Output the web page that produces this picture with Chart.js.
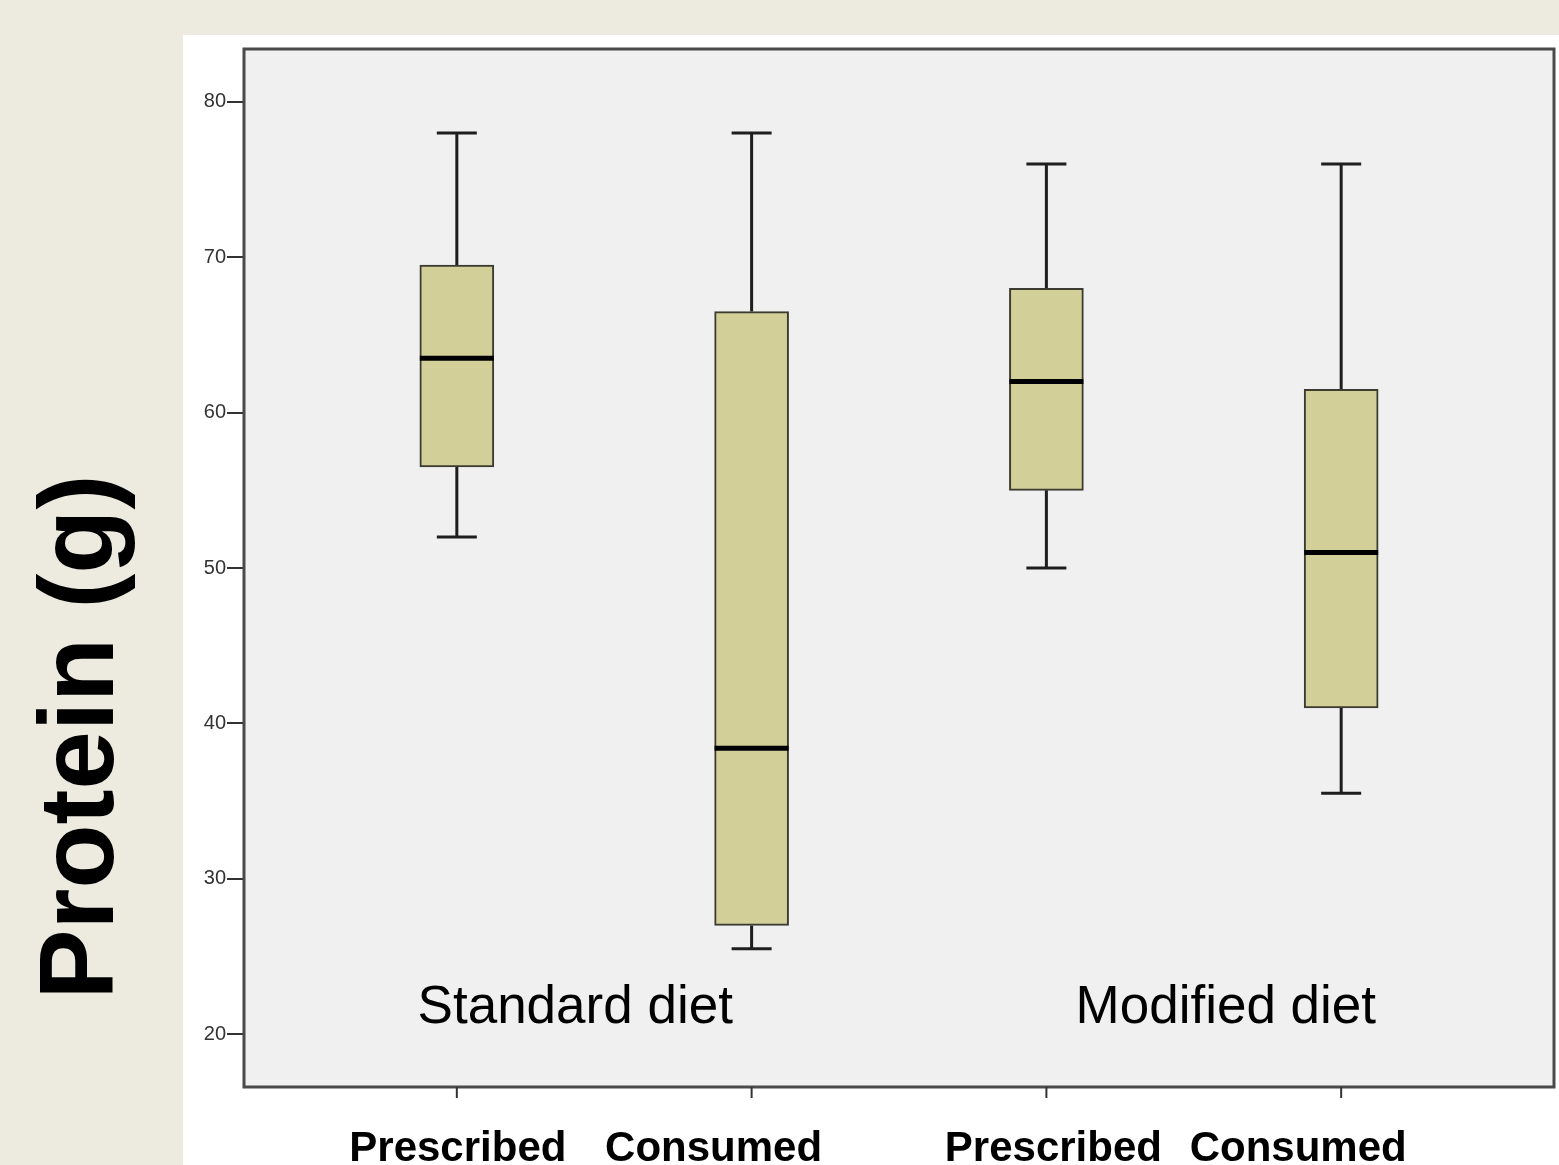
<!DOCTYPE html>
<html>
<head>
<meta charset="utf-8">
<script src="https://cdn.jsdelivr.net/npm/chart.js@4/dist/chart.umd.min.js"></script>
<style>
  html, body { margin: 0; padding: 0; background: #edeae0; }
  #wrap { width: 1559px; height: 1165px; position: relative; }
</style>
</head>
<body>
<div id="wrap"><canvas id="c" width="1559" height="1165"></canvas></div>
<script>
// ---- data ----
const categories = ['Prescribed', 'Consumed', 'Prescribed', 'Consumed'];
const groups = ['Standard diet', 'Modified diet'];
const whiskerMin = [52, 25.5, 50, 35.5];
const q1 = [56.5, 27, 55, 41];
const median = [63.5, 38.4, 62, 51];
const q3 = [69.5, 66.5, 68, 61.5];
const whiskerMax = [78, 78, 76, 76];
const yTicks = [20, 30, 40, 50, 60, 70, 80];
const yTitle = 'Protein (g)';

const FONT = '"Liberation Sans", Arial, sans-serif';
const boxFill = '#d3cf99';
const boxEdge = '#3b3b30';

const boxPlugin = {
  id: 'boxPlugin',
  beforeDraw(chart) {
    const ctx = chart.ctx, a = chart.chartArea;
    ctx.save();
    ctx.fillStyle = '#edeae0';
    ctx.fillRect(0, 0, chart.width, chart.height);
    ctx.fillStyle = '#ffffff';
    ctx.fillRect(183, 35, chart.width - 183, chart.height - 35);
    ctx.fillStyle = '#f0f0f0';
    ctx.fillRect(a.left, a.top, a.right - a.left, a.bottom - a.top);
    ctx.restore();
  },
  beforeDatasetsDraw(chart) {
    const ctx = chart.ctx, xs = chart.scales.x, ys = chart.scales.y;
    ctx.save();
    ctx.strokeStyle = '#1e1e1e';
    ctx.lineWidth = 3;
    const capHalf = 20;
    categories.forEach((c, i) => {
      const x = xs.getPixelForValue(i);
      ctx.beginPath();
      ctx.moveTo(x, ys.getPixelForValue(whiskerMax[i]));
      ctx.lineTo(x, ys.getPixelForValue(q3[i]));
      ctx.moveTo(x, ys.getPixelForValue(q1[i]));
      ctx.lineTo(x, ys.getPixelForValue(whiskerMin[i]));
      ctx.moveTo(x - capHalf, ys.getPixelForValue(whiskerMax[i]));
      ctx.lineTo(x + capHalf, ys.getPixelForValue(whiskerMax[i]));
      ctx.moveTo(x - capHalf, ys.getPixelForValue(whiskerMin[i]));
      ctx.lineTo(x + capHalf, ys.getPixelForValue(whiskerMin[i]));
      ctx.stroke();
    });
    ctx.restore();
  },
  afterDatasetsDraw(chart) {
    const ctx = chart.ctx, xs = chart.scales.x, ys = chart.scales.y, a = chart.chartArea;
    ctx.save();
    // medians
    ctx.strokeStyle = '#000';
    ctx.lineWidth = 5;
    categories.forEach((c, i) => {
      const x = xs.getPixelForValue(i);
      const y = ys.getPixelForValue(median[i]);
      ctx.beginPath();
      ctx.moveTo(x - 37, y);
      ctx.lineTo(x + 37, y);
      ctx.stroke();
    });
    // frame
    ctx.strokeStyle = '#4a4a4a';
    ctx.lineWidth = 3;
    ctx.strokeRect(a.left, a.top, a.right - a.left, a.bottom - a.top);
    // x ticks
    ctx.strokeStyle = '#333';
    ctx.lineWidth = 2;
    categories.forEach((c, i) => {
      const x = xs.getPixelForValue(i);
      ctx.beginPath();
      ctx.moveTo(x, a.bottom);
      ctx.lineTo(x, a.bottom + 11);
      ctx.stroke();
    });
    // category labels
    const shift = [1, -38, 7, -43];
    ctx.fillStyle = '#000';
    ctx.font = 'bold 42px ' + FONT;
    ctx.textAlign = 'center';
    ctx.textBaseline = 'alphabetic';
    categories.forEach((c, i) => {
      ctx.fillText(c, xs.getPixelForValue(i) + shift[i], a.bottom + 74);
    });
    // group labels
    ctx.font = '53px ' + FONT;
    ctx.fillText(groups[0], (xs.getPixelForValue(0) + xs.getPixelForValue(1)) / 2 - 29, ys.getPixelForValue(20) - 11);
    ctx.fillText(groups[1], (xs.getPixelForValue(2) + xs.getPixelForValue(3)) / 2 + 32, ys.getPixelForValue(20) - 11);
    // y title
    ctx.font = 'bold 105px ' + FONT;
    ctx.translate(113, 737);
    ctx.rotate(-Math.PI / 2);
    ctx.fillText(yTitle, 0, 0);
    ctx.restore();
  }
};

new Chart(document.getElementById('c'), {
  type: 'bar',
  data: {
    datasets: [{
      data: categories.map((c, i) => ({ x: i, y: [q1[i], q3[i]] })),
      backgroundColor: boxFill,
      borderColor: boxEdge,
      borderWidth: 2,
      borderSkipped: false,
      barThickness: 74
    }]
  },
  options: {
    responsive: false,
    animation: false,
    layout: { padding: { left: 183, top: 49, right: 5, bottom: 78 } },
    plugins: { legend: { display: false }, tooltip: { enabled: false } },
    scales: {
      x: { type: 'linear', display: false, offset: false, min: -0.722, max: 3.722 },
      y: {
        type: 'linear',
        min: 16.6,
        max: 83.4,
        afterBuildTicks: s => { s.ticks = yTicks.map(v => ({ value: v })); },
        afterFit: s => { s.width = 61; },
        grid: { drawOnChartArea: false, drawTicks: true, tickLength: 17, color: '#333', lineWidth: 2 },
        border: { display: false },
        ticks: { padding: 1, color: '#333', font: { size: 20, family: FONT } }
      }
    }
  },
  plugins: [boxPlugin]
});
</script>
</body>
</html>
